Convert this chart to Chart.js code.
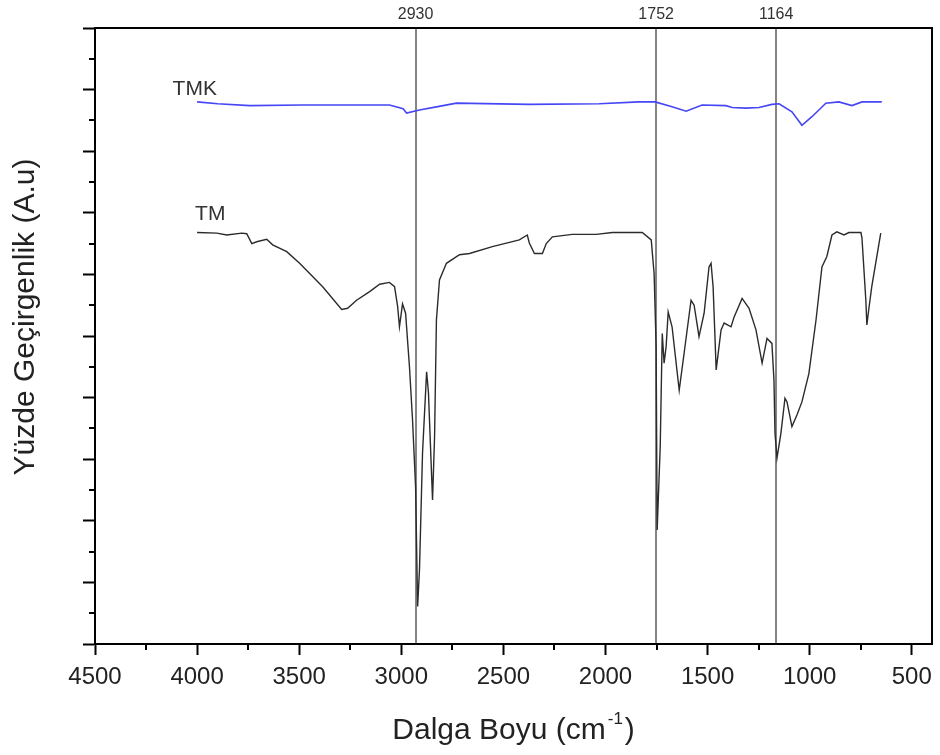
<!DOCTYPE html>
<html>
<head>
<meta charset="utf-8">
<script src="https://cdn.jsdelivr.net/npm/chart.js@4"></script>
<style>
  body { margin: 0; background: #fff; }
  .chartBox { width: 940px; height: 755px; }
</style>
</head>
<body>
<div class="chartBox"><canvas id="myChart"></canvas></div>
<script>
  // tick labels
  const xTickValues = [4500, 4000, 3500, 3000, 2500, 2000, 1500, 1000, 500];
  const xMinorTicks = [4250, 3750, 3250, 2750, 2250, 1750, 1250, 750];
  const peakLabels = [2930, 1752, 1164];

  // TM spectrum (black)
  const tmWave = [4000, 3903, 3855, 3781, 3757, 3732, 3708, 3659, 3630, 3561, 3498, 3385, 3292, 3263, 3219, 3155, 3106, 3058, 3033, 3018,
    3009, 2994, 2979, 2960, 2945, 2930, 2920, 2911, 2896, 2876, 2867, 2847, 2837, 2828, 2813, 2779, 2715, 2666, 2554, 2422,
    2383, 2373, 2348, 2309, 2290, 2260, 2163, 2045, 1967, 1820, 1776, 1762, 1752, 1747, 1732, 1722, 1713, 1703, 1693, 1674,
    1639, 1615, 1581, 1566, 1542, 1517, 1493, 1483, 1473, 1458, 1434, 1419, 1385, 1370, 1331, 1297, 1263, 1233, 1209, 1185,
    1175, 1170, 1160, 1141, 1121, 1111, 1087, 1062, 1038, 1004, 969, 940, 916, 891, 867, 832, 808, 749, 744, 725,
    720, 710, 696, 652];
  const tmValues = [6.68, 6.67, 6.64, 6.67, 6.66, 6.50, 6.53, 6.57, 6.48, 6.37, 6.18, 5.80, 5.43, 5.45, 5.58, 5.72, 5.84, 5.87, 5.80, 5.48,
    5.15, 5.52, 5.37, 4.50, 3.64, 2.55, 0.61, 1.20, 3.10, 4.42, 4.08, 2.34, 3.37, 5.26, 5.91, 6.18, 6.32, 6.34, 6.45, 6.56,
    6.64, 6.51, 6.34, 6.34, 6.50, 6.61, 6.65, 6.65, 6.68, 6.68, 6.56, 6.02, 4.83, 1.85, 3.20, 5.04, 4.56, 4.83, 5.39, 5.15,
    4.12, 4.72, 5.58, 5.50, 4.99, 5.37, 6.12, 6.18, 5.80, 4.45, 5.10, 5.21, 5.15, 5.31, 5.61, 5.45, 5.10, 4.56, 4.96, 4.88,
    4.29, 3.42, 3.02, 3.42, 3.99, 3.93, 3.53, 3.72, 3.93, 4.39, 5.26, 6.12, 6.29, 6.64, 6.69, 6.64, 6.68, 6.68, 6.59, 5.58,
    5.18, 5.45, 5.80, 6.67];

  // TMK spectrum (blue)
  const tmkWave = [4000, 3899, 3742, 3483, 3058, 2991, 2974, 2911, 2828, 2730, 2373, 2031, 1835, 1757, 1674, 1605, 1527, 1410, 1380, 1312,
    1248, 1185, 1150, 1087, 1038, 989, 921, 857, 793, 744, 647];
  const tmkValues = [8.80, 8.77, 8.74, 8.75, 8.75, 8.69, 8.62, 8.67, 8.72, 8.78, 8.76, 8.77, 8.80, 8.80, 8.72, 8.65, 8.75, 8.74, 8.71, 8.70,
    8.71, 8.76, 8.77, 8.64, 8.42, 8.56, 8.78, 8.80, 8.74, 8.80, 8.80];

  const FONT = "'Liberation Sans', Arial, sans-serif";

  const toPoints = (xs, ys) => xs.map((x, i) => ({ x: x, y: ys[i] }));

  // extra drawing: minor ticks, axis titles, series labels
  const decorations = {
    id: 'decorations',
    afterDraw(chart) {
      const ctx = chart.ctx;
      const xs = chart.scales.x;
      const ys = chart.scales.y;
      const area = chart.chartArea;
      ctx.save();
      ctx.strokeStyle = '#000';
      ctx.lineWidth = 2;
      ctx.beginPath();
      xMinorTicks.forEach(v => {
        const px = Math.round(xs.getPixelForValue(v));
        ctx.moveTo(px, area.bottom);
        ctx.lineTo(px, area.bottom + 6);
      });
      for (let v = 0.5; v < 10; v += 1) {
        const py = Math.round(ys.getPixelForValue(v));
        ctx.moveTo(area.left, py);
        ctx.lineTo(area.left - 6, py);
      }
      ctx.stroke();

      ctx.fillStyle = '#222';
      // y title
      ctx.save();
      ctx.font = '30px ' + FONT;
      ctx.textAlign = 'center';
      ctx.textBaseline = 'alphabetic';
      ctx.translate(34, 317);
      ctx.rotate(-Math.PI / 2);
      ctx.fillText('Yüzde Geçirgenlik (A.u)', 0, 0);
      ctx.restore();

      // x title with superscript
      const main = 'Dalga Boyu (cm';
      const sup = '-1';
      const close = ')';
      ctx.textBaseline = 'alphabetic';
      ctx.textAlign = 'left';
      ctx.font = '30px ' + FONT;
      const w1 = ctx.measureText(main).width;
      const w3 = ctx.measureText(close).width;
      ctx.font = '17px ' + FONT;
      const w2 = ctx.measureText(sup).width + 4;
      const cx = (area.left + area.right) / 2;
      let tx = cx - (w1 + w2 + w3) / 2;
      ctx.font = '30px ' + FONT;
      ctx.fillText(main, tx, 739);
      ctx.font = '17px ' + FONT;
      ctx.fillText(sup, tx + w1 + 2, 724);
      ctx.font = '30px ' + FONT;
      ctx.fillText(close, tx + w1 + w2, 739);

      // series labels
      ctx.font = '21px ' + FONT;
      ctx.fillStyle = '#333';
      ctx.fillText('TMK', xs.getPixelForValue(4120), ys.getPixelForValue(8.91));
      ctx.fillText('TM', xs.getPixelForValue(4010), ys.getPixelForValue(6.88));
      ctx.restore();
    }
  };

  const config = {
    type: 'line',
    data: {
      datasets: [{
        label: 'TMK',
        data: toPoints(tmkWave, tmkValues),
        borderColor: 'rgb(70, 70, 245)',
        borderWidth: 1.6,
        pointRadius: 0,
        tension: 0
      },
      {
        label: 'TM',
        data: toPoints(tmWave, tmValues),
        borderColor: '#2b2b2b',
        borderWidth: 1.4,
        pointRadius: 0,
        tension: 0
      }]
    },
    options: {
      responsive: true,
      maintainAspectRatio: false,
      animation: false,
      layout: { padding: 0 },
      plugins: {
        legend: { display: false },
        tooltip: { enabled: false }
      },
      scales: {
        x: {
          type: 'linear',
          position: 'bottom',
          reverse: true,
          min: 400,
          max: 4500,
          afterBuildTicks: (scale) => { scale.ticks = xTickValues.map(v => ({ value: v })); },
          afterFit: (scale) => { scale.height = 111; },
          grid: { drawOnChartArea: false, tickLength: 11, tickWidth: 2, tickColor: '#000' },
          border: { color: '#000', width: 2 },
          ticks: {
            font: { family: FONT, size: 24 },
            color: '#222',
            padding: 8,
            maxRotation: 0,
            autoSkip: false,
            callback: (v) => String(v)
          }
        },
        x2: {
          type: 'linear',
          position: 'top',
          reverse: true,
          min: 400,
          max: 4500,
          afterBuildTicks: (scale) => { scale.ticks = peakLabels.map(v => ({ value: v })); },
          afterFit: (scale) => { scale.height = 28; },
          grid: { drawOnChartArea: true, drawTicks: false, color: '#858585', lineWidth: 2 },
          border: { display: true, color: '#000', width: 2 },
          ticks: {
            font: { family: FONT, size: 16 },
            color: '#333',
            padding: 4,
            maxRotation: 0,
            autoSkip: false,
            callback: (v) => String(v)
          }
        },
        y: {
          position: 'left',
          min: 0,
          max: 10,
          ticks: { display: false, stepSize: 1 },
          afterFit: (scale) => { scale.width = 95; },
          grid: { drawOnChartArea: false, tickLength: 12, tickWidth: 2, tickColor: '#000' },
          border: { color: '#000', width: 2 }
        },
        y2: {
          position: 'right',
          min: 0,
          max: 10,
          ticks: { display: false },
          afterFit: (scale) => { scale.width = 7; },
          grid: { display: false },
          border: { display: true, color: '#000', width: 2 }
        }
      }
    },
    plugins: [decorations]
  };

  const myChart = new Chart(document.getElementById('myChart'), config);
</script>
</body>
</html>
